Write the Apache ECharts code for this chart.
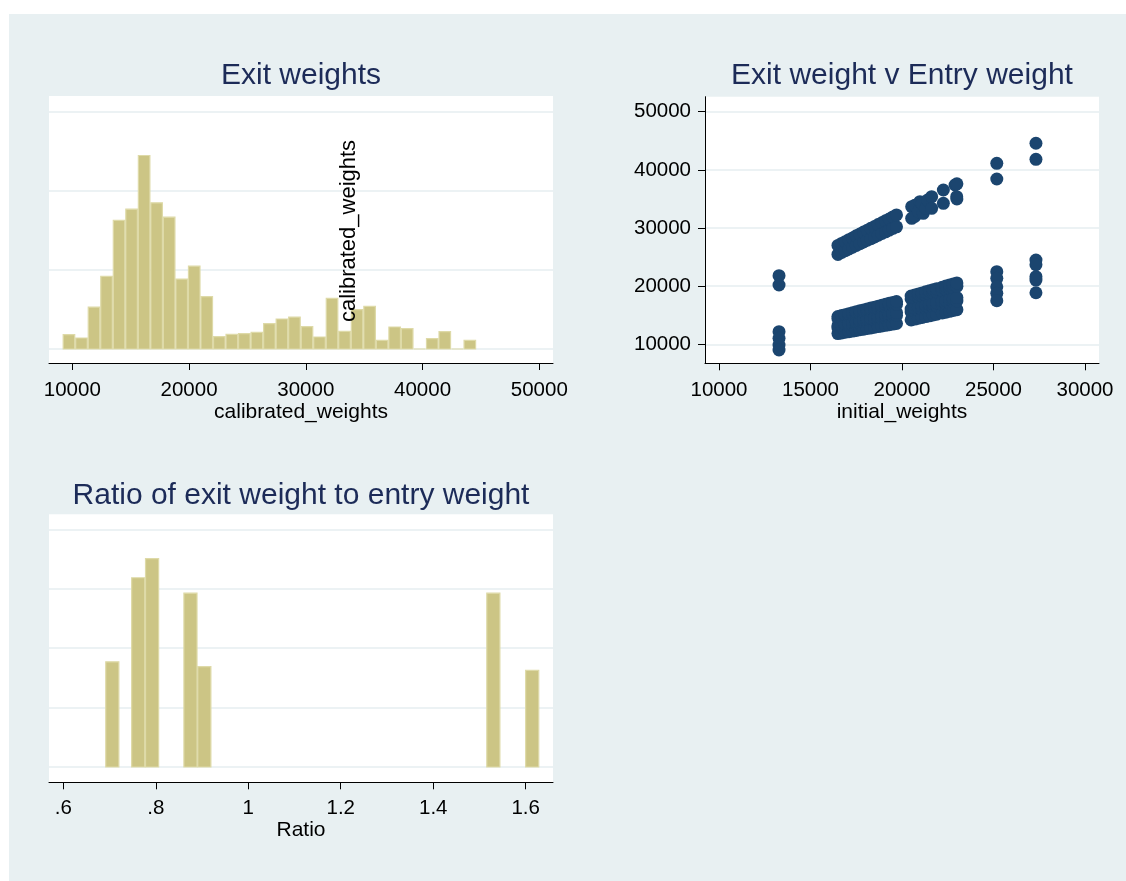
<!DOCTYPE html>
<html>
<head>
<meta charset="utf-8">
<title>Exit and entry weights</title>
<script src="https://cdn.jsdelivr.net/npm/echarts@6/dist/echarts.min.js"></script>
<style>
  html, body { margin: 0; padding: 0; background: #ffffff; }
  #chart { width: 1126px; height: 881px; }
</style>
</head>
<body>
<div id="chart"></div>
<script>
// ---- Histogram of calibrated (exit) weights: 33 equal bins, density x 1e5 ----
const weightBinStart = 9177;
const weightBinWidth = 1073;
const weightDensity = [
  0.905, 0.695, 2.65, 4.59, 8.125, 8.84, 12.23, 9.24, 8.335, 4.42, 5.24,
  3.305, 0.78, 0.925, 0.97, 1.05, 1.6, 1.895, 2.02, 1.41, 0.76, 3.2,
  1.115, 2.485, 2.695, 0.545, 1.39, 1.285, 0, 0.65, 1.095, 0, 0.545
];
const weightTicks = [10000, 20000, 30000, 40000, 50000];

// ---- Ratio of exit to entry weight: discrete histogram ----
const ratioValues = [0.706, 0.762, 0.792, 0.875, 0.905, 1.530, 1.614];
const ratioDensity = [3.54, 6.37, 7.01, 5.85, 3.38, 5.85, 3.25];
const ratioBarWidth = 0.0305;
const ratioTicks = [0.6, 0.8, 1, 1.2, 1.4, 1.6];

// ---- Exit weight against entry weight: [initial_weights, calibrated_weights] ----
const initialTicks = [10000, 15000, 20000, 25000, 30000];
const lowEntryPairs = [
  [13280, 21800], [13280, 20200], [13280, 12170], [13280, 11030], [13280, 9880], [13280, 9020]
];
const mainBandLower = [
  [16500, 11850], [16500, 12800], [16500, 13200], [16500, 14400], [16500, 14780],
  [16700, 11960], [16700, 12930], [16700, 13340], [16700, 14560], [16700, 14940],
  [16900, 12070], [16900, 13070], [16900, 13480], [16900, 14710], [16900, 15100],
  [17100, 12170], [17100, 13200], [17100, 13620], [17100, 14870], [17100, 15260],
  [17300, 12280], [17300, 13340], [17300, 13760], [17300, 15020], [17300, 15420],
  [17500, 12390], [17500, 13470], [17500, 13900], [17500, 15180], [17500, 15590],
  [17700, 12500], [17700, 13600], [17700, 14050], [17700, 15340], [17700, 15750],
  [17900, 12610], [17900, 13740], [17900, 14190], [17900, 15490], [17900, 15910],
  [18100, 12720], [18100, 13870], [18100, 14330], [18100, 15650], [18100, 16070],
  [18300, 12820], [18300, 14010], [18300, 14470], [18300, 15800], [18300, 16230],
  [18500, 12930], [18500, 14140], [18500, 14610], [18500, 15960], [18500, 16390],
  [18700, 13040], [18700, 14270], [18700, 14750], [18700, 16120], [18700, 16550],
  [18900, 13150], [18900, 14410], [18900, 14890], [18900, 16270], [18900, 16720],
  [19100, 13260], [19100, 14540], [19100, 15030], [19100, 16430], [19100, 16880],
  [19300, 13360], [19300, 14680], [19300, 15170], [19300, 16580], [19300, 17040],
  [19500, 13470], [19500, 14810], [19500, 15310], [19500, 16740], [19500, 17200],
  [19700, 13580], [19700, 14950], [19700, 15450], [19700, 16900], [19700, 17360]
];
const mainBandUpper = [
  [16500, 25450], [16500, 27000], [16700, 25800], [16700, 27350],
  [16900, 26100], [16900, 27650], [17100, 26400], [17100, 28000],
  [17300, 26700], [17300, 28300], [17500, 27000], [17500, 28650],
  [17700, 27300], [17700, 28950], [17900, 27600], [17900, 29300],
  [18100, 27900], [18100, 29600], [18300, 28150], [18300, 29950],
  [18500, 28450], [18500, 30250], [18700, 28750], [18700, 30600],
  [18900, 29050], [18900, 30900], [19100, 29350], [19100, 31250],
  [19300, 29650], [19300, 31550], [19500, 29950], [19500, 31900],
  [19700, 30200], [19700, 32250]
];
const highBandLower = [
  [20500, 14200], [20500, 15550], [20500, 16050], [20500, 17800], [20500, 18300],
  [20700, 14340], [20700, 15700], [20700, 16210], [20700, 17970], [20700, 18480],
  [20900, 14480], [20900, 15850], [20900, 16370], [20900, 18150], [20900, 18660],
  [21100, 14620], [21100, 16000], [21100, 16530], [21100, 18320], [21100, 18840],
  [21300, 14760], [21300, 16160], [21300, 16690], [21300, 18490], [21300, 19020],
  [21500, 14900], [21500, 16310], [21500, 16850], [21500, 18670], [21500, 19200],
  [21700, 15040], [21700, 16460], [21700, 17000], [21700, 18840], [21700, 19380],
  [21900, 15180], [21900, 16610], [21900, 17160], [21900, 19020], [21900, 19560],
  [22200, 15390], [22200, 16840], [22200, 17400], [22200, 19280], [22200, 19830],
  [22400, 15530], [22400, 16990], [22400, 17560], [22400, 19450], [22400, 20010],
  [22600, 15670], [22600, 17140], [22600, 17720], [22600, 19620], [22600, 20190],
  [22800, 15810], [22800, 17300], [22800, 17870], [22800, 19800], [22800, 20370],
  [23000, 15950], [23000, 17450], [23000, 18030], [23000, 19970], [23000, 20550]
];
const highBandUpper = [
  [20530, 31670], [20530, 33660], [20700, 32000], [20700, 33900],
  [20900, 32800], [20980, 34520], [21100, 34200], [21160, 32530],
  [21300, 33400], [21400, 34800], [21620, 35380], [21620, 33390],
  [22260, 36540], [22260, 34250], [22900, 37400], [22990, 35380],
  [23000, 37600], [23000, 35000]
];
const topEntryPairs = [
  [25180, 41130], [25180, 38430], [25180, 22490], [25180, 21350],
  [25180, 19900], [25180, 18770], [25180, 17500],
  [27320, 44570], [27320, 41810], [27320, 24500], [27320, 23700],
  [27320, 21630], [27320, 21050], [27320, 18870]
];

// ---- Styling ----
const FONT = 'Liberation Sans, Arial, Helvetica, sans-serif';
const PAGE_BG = '#e8f0f2';
const GRID_LINE = '#e6eef1';
const BAR_FILL = '#ccc585';
const BAR_EDGE = '#dedaa8';
const MARKER = '#1b456f';
const TITLE_COLOR = '#1c2b58';

const chart = echarts.init(document.getElementById('chart'), null, { renderer: 'canvas' });

function histogramRect(params, api) {
  const topLeft = api.coord([api.value(0), api.value(2)]);
  const bottomRight = api.coord([api.value(1), 0]);
  return {
    type: 'rect',
    shape: {
      x: topLeft[0] + 0.5,
      y: topLeft[1],
      width: bottomRight[0] - topLeft[0] - 1,
      height: bottomRight[1] - topLeft[1]
    },
    style: { fill: BAR_FILL, stroke: BAR_EDGE, lineWidth: 1.2 }
  };
}

const weightBars = weightDensity.map((d, i) => [
  weightBinStart + i * weightBinWidth,
  weightBinStart + (i + 1) * weightBinWidth,
  d
]);
const ratioBars = ratioValues.map((v, i) => [
  v - ratioBarWidth / 2,
  v + ratioBarWidth / 2,
  ratioDensity[i]
]);
const scatterData = [].concat(
  lowEntryPairs, mainBandLower, mainBandUpper, highBandLower, highBandUpper, topEntryPairs
);

const plainNumber = v => String(Math.round(v));
const tickText = { fontSize: 20.5, color: '#000', fontFamily: FONT };
const nameText = { fontSize: 21, color: '#000', fontFamily: FONT };
const axisLine = { show: true, onZero: false, lineStyle: { color: '#000', width: 1 } };
const hiddenY = {
  type: 'value',
  axisLine: { show: false },
  axisTick: { show: false },
  axisLabel: { show: false },
  splitLine: { show: true, lineStyle: { color: GRID_LINE, width: 1.6 } }
};

function titleText(text, x, y) {
  return {
    type: 'text', x: x, y: y, z: 10,
    style: {
      text: text, fill: TITLE_COLOR, font: '30px ' + FONT,
      align: 'center', verticalAlign: 'middle'
    }
  };
}

const option = {
  backgroundColor: '#ffffff',
  animation: false,
  graphic: [
    { type: 'rect', z: -100, shape: { x: 9, y: 14, width: 1117, height: 867 }, style: { fill: PAGE_BG } },
    { type: 'rect', z: -90, shape: { x: 49, y: 96, width: 504, height: 267 }, style: { fill: '#ffffff' } },
    { type: 'rect', z: -90, shape: { x: 705, y: 96.7, width: 394, height: 266.6 }, style: { fill: '#ffffff' } },
    { type: 'rect', z: -90, shape: { x: 49, y: 514.3, width: 504, height: 268 }, style: { fill: '#ffffff' } },
    titleText('Exit weights', 301, 76),
    titleText('Exit weight v Entry weight', 902, 76),
    titleText('Ratio of exit weight to entry weight', 301, 495.5),
    {
      type: 'text', x: 349, y: 231, rotation: Math.PI / 2, z: 10,
      style: {
        text: 'calibrated_weights', fill: '#000', font: '22px ' + FONT,
        align: 'center', verticalAlign: 'middle'
      }
    }
  ],
  grid: [
    { left: 49, top: 111.7, width: 504, height: 237.3 },
    { left: 705, top: 96.7, width: 394, height: 266.6 },
    { left: 49, top: 529.3, width: 504, height: 237.7 }
  ],
  xAxis: [
    {
      gridIndex: 0, type: 'value', min: 8004, max: 51173, offset: 14,
      axisLine: axisLine,
      axisTick: { show: true, customValues: weightTicks, length: 7, lineStyle: { color: '#000' } },
      axisLabel: Object.assign({ customValues: weightTicks, margin: 17, formatter: plainNumber }, tickText),
      splitLine: { show: false },
      name: 'calibrated_weights', nameLocation: 'middle', nameGap: 38, nameTextStyle: nameText
    },
    {
      gridIndex: 1, type: 'value', min: 9235, max: 30765,
      axisLine: axisLine,
      axisTick: { show: true, customValues: initialTicks, length: 7, lineStyle: { color: '#000' } },
      axisLabel: Object.assign({ customValues: initialTicks, margin: 17, formatter: plainNumber }, tickText),
      splitLine: { show: false },
      name: 'initial_weights', nameLocation: 'middle', nameGap: 38, nameTextStyle: nameText
    },
    {
      gridIndex: 2, type: 'value', min: 0.5691, max: 1.659, offset: 15.3,
      axisLine: axisLine,
      axisTick: { show: true, customValues: ratioTicks, length: 7, lineStyle: { color: '#000' } },
      axisLabel: Object.assign({
        customValues: ratioTicks, margin: 16,
        formatter: v => String(+v.toFixed(1)).replace(/^0\./, '.')
      }, tickText),
      splitLine: { show: false },
      name: 'Ratio', nameLocation: 'middle', nameGap: 37, nameTextStyle: nameText
    }
  ],
  yAxis: [
    Object.assign({ gridIndex: 0, min: 0, max: 15, interval: 5 }, hiddenY),
    {
      gridIndex: 1, type: 'value', min: 6733, max: 52580,
      axisLine: axisLine,
      axisTick: { show: true, customValues: weightTicks, length: 7, lineStyle: { color: '#000' } },
      axisLabel: Object.assign({ customValues: weightTicks, margin: 14, formatter: plainNumber }, tickText),
      splitLine: { show: true, lineStyle: { color: GRID_LINE, width: 1.6 } }
    },
    Object.assign({ gridIndex: 2, min: 0, max: 8, interval: 2 }, hiddenY)
  ],
  series: [
    {
      type: 'custom', xAxisIndex: 0, yAxisIndex: 0,
      renderItem: histogramRect, data: weightBars, encode: { x: [0, 1], y: 2 }
    },
    {
      type: 'scatter', xAxisIndex: 1, yAxisIndex: 1,
      symbol: 'circle', symbolSize: 13,
      itemStyle: { color: MARKER, opacity: 1 },
      data: scatterData
    },
    {
      type: 'custom', xAxisIndex: 2, yAxisIndex: 2,
      renderItem: histogramRect, data: ratioBars, encode: { x: [0, 1], y: 2 }
    }
  ]
};

chart.setOption(option);
</script>
</body>
</html>
